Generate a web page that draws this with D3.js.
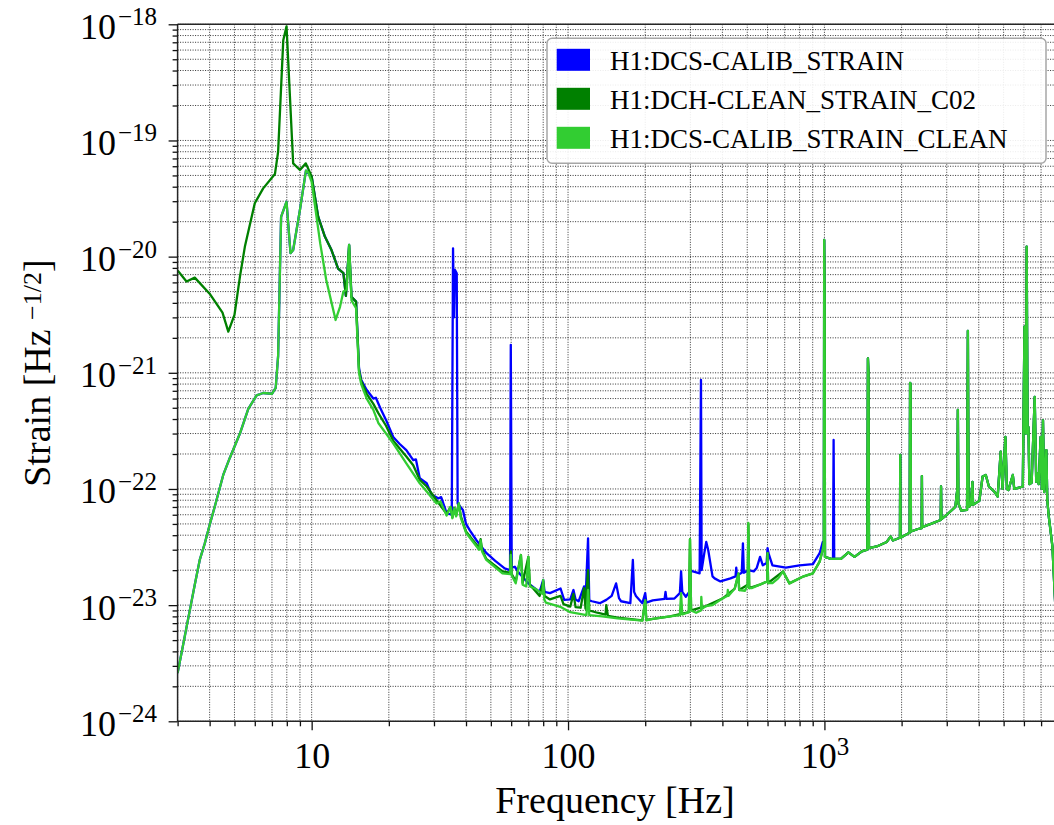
<!DOCTYPE html>
<html><head><meta charset="utf-8">
<script src="https://cdn.jsdelivr.net/npm/d3@7"></script>
<style>
html,body{margin:0;padding:0;background:#fff;}
svg{display:block;}
</style>
</head><body>
<svg id="chart" width="1054" height="825"></svg>
<script>
// ---------------- DATA (frequency [Hz], ASD [strain/rtHz]) ----------------
const seriesNames = ["H1:DCS-CALIB_STRAIN", "H1:DCH-CLEAN_STRAIN_C02", "H1:DCS-CALIB_STRAIN_CLEAN"];
const seriesColors = ["#0000ff", "#008000", "#32cd32"];

// low-frequency part (3 - 15 Hz)
const lowCalib = [[3.0,2.6e-24],[3.2,5.4e-24],[3.35,9.1e-24],[3.5,1.5e-23],[3.66,2.45e-23],[3.83,3.4e-23],[4.0,4.9e-23],[4.2,7.2e-23],[4.52,1.32e-22],[4.79,1.84e-22],[5.25,3.0e-22],[5.66,4.9e-22],[6.1,6.4e-22],[6.47,6.7e-22],[7.0,6.6e-22],[7.24,7.4e-22],[7.4,1.4e-21],[7.6,2.2e-20],[7.98,2.97e-20],[8.27,1.07e-20],[8.47,1.14e-20],[9.0,2.52e-20],[9.5,5.5e-20],[10.0,4.9e-20],[10.6,2.21e-20],[11.26,1.49e-20],[11.95,1.14e-20],[12.68,7.9e-21],[13.3,7.2e-21],[13.6,4.6e-21],[14.0,1.26e-20],[14.3,4.5e-21],[14.9,4.1e-21],[15.3,1.1e-21]];
const lowC02 = [[3.0,7.6e-21],[3.25,6.1e-21],[3.5,6.6e-21],[4.0,4.8e-21],[4.49,3.3e-21],[4.73,2.26e-21],[5.0,3.15e-21],[5.25,6.7e-21],[5.49,1.22e-20],[6.0,2.88e-20],[6.47,3.87e-20],[7.19,5.14e-20],[7.4,8.0e-20],[7.75,7.3e-19],[7.98,9.6e-19],[8.47,6.35e-20],[9.0,5.57e-20],[9.49,6.35e-20],[10.0,4.9e-20],[10.6,2.21e-20],[11.26,1.49e-20],[11.95,1.14e-20],[12.68,7.9e-21],[13.3,7.2e-21],[13.6,4.6e-21],[14.0,1.26e-20],[14.3,4.5e-21],[14.9,4.1e-21],[15.3,1.05e-21]];
const lowClean = [[3.0,2.6e-24],[3.2,5.4e-24],[3.35,9.1e-24],[3.5,1.5e-23],[3.66,2.45e-23],[3.83,3.4e-23],[4.0,4.9e-23],[4.2,7.2e-23],[4.52,1.32e-22],[4.79,1.84e-22],[5.25,3.0e-22],[5.66,4.9e-22],[6.1,6.4e-22],[6.47,6.7e-22],[7.0,6.6e-22],[7.24,7.4e-22],[7.4,1.4e-21],[7.6,2.2e-20],[7.98,2.97e-20],[8.27,1.07e-20],[8.47,1.14e-20],[9.0,2.52e-20],[9.5,5.5e-20],[9.7,5.3e-20],[10.0,4.4e-20],[10.8,1.3e-20],[11.4,6.3e-21],[12.4,2.85e-21],[12.9,3.7e-21],[13.3,5.0e-21],[13.7,5.2e-21],[14.0,1.26e-20],[14.3,4.2e-21],[14.9,3.6e-21],[15.3,1.0e-21]];

// mid-frequency part (15 - 1000 Hz)
const midCalib = [[15.6,8.7e-22],[16.4,7.1e-22],[17.4,6.0e-22],[17.8,6.1e-22],[18.5,5.0e-22],[19.5,3.93e-22],[20.8,2.8e-22],[22.0,2.45e-22],[23.4,2.16e-22],[24.9,1.77e-22],[25.5,1.8e-22],[26.4,1.24e-22],[28.1,1.12e-22],[29.4,8.9e-23],[31.2,8.3e-23],[32.0,8.5e-23],[33.6,6.2e-23],[35.2,6.0e-23],[35.6,1.18e-20],[35.9,3.0e-21],[36.2,7.7e-21],[36.8,7.2e-21],[37.1,7.5e-23],[38.9,6.6e-23],[40.0,5.0e-23],[41.4,4.4e-23],[44.0,3.6e-23],[48.1,2.8e-23],[52.0,2.4e-23],[56.6,2.07e-23],[59.4,2.0e-23],[59.8,1.74e-21],[60.3,2.1e-23],[62.0,2.14e-23],[64.5,1.88e-23],[70.0,1.54e-23],[77.5,1.3e-23],[80.0,1.65e-23],[81.0,1.3e-23],[85.0,1.27e-23],[93.5,1.39e-23],[96.6,1.11e-23],[102,1.12e-23],[105,1.35e-23],[107,1.12e-23],[110,1.08e-23],[115.5,1.45e-23],[117,1.1e-23],[119.7,3.76e-23],[121,1.1e-23],[124,1.08e-23],[133,1.04e-23],[141,1.11e-23],[148,1.2e-23],[154,1.54e-23],[158,1.15e-23],[161,1.08e-23],[175,1.04e-23],[179,2.45e-23],[181,1.3e-23],[184,1.2e-23],[195,1.04e-23],[200,1.27e-23],[202,1.05e-23],[214,1.1e-23],[238,1.13e-23],[240,1.3e-23],[242,1.13e-23],[260,1.14e-23],[273,1.27e-23],[276,1.95e-23],[279,1.3e-23],[288,1.18e-23],[297,1.3e-23],[300,2.0e-23],[307,1.95e-23],[326,1.88e-23],[330,8.7e-22],[332,2.0e-23],[340,2.8e-23],[346,3.5e-23],[352,3.0e-23],[366,1.77e-23],[373,1.7e-23],[393,1.6e-23],[430,1.7e-23],[450,1.77e-23],[453,2.1e-23],[456,1.8e-23],[476,1.9e-23],[481,3.4e-23],[485,1.9e-23],[505,2.0e-23],[530,1.95e-23],[545,2.1e-23],[561,2.6e-23],[575,2.2e-23],[595,2.3e-23],[600,3.1e-23],[605,2.8e-23],[627,2.2e-23],[707,2.1e-23],[800,2.2e-23],[902,2.25e-23],[958,2.8e-23],[985,3.5e-23]];
const midC02 = [[15.6,8.5e-22],[16.4,6.6e-22],[17.4,5.4e-22],[18.2,4.5e-22],[19.5,3.5e-22],[20.8,2.6e-22],[23.4,1.9e-22],[24.9,1.6e-22],[26.4,1.2e-22],[28.1,1.05e-22],[30.7,8.0e-23],[33.6,6.1e-23],[34.8,7.0e-23],[35.4,5.7e-23],[36.0,6.9e-23],[36.6,5.9e-23],[37.5,7.5e-23],[38.2,5.8e-23],[40,4.3e-23],[45,3.1e-23],[45.6,3.7e-23],[46.2,3.0e-23],[48,2.5e-23],[55.5,1.95e-23],[59.4,1.9e-23],[59.8,2.9e-23],[60.3,1.85e-23],[62.5,1.6e-23],[65.5,2.7e-23],[66.5,1.55e-23],[70,2.6e-23],[71,1.5e-23],[77.5,1.2e-23],[80,1.6e-23],[81,1.2e-23],[85,1.12e-23],[93.5,1.2e-23],[96,1.02e-23],[102,9.7e-24],[105,1.25e-23],[107,9.6e-24],[112,9.5e-24],[115.5,1.4e-23],[117,9.3e-24],[119.7,2.0e-23],[121,9.0e-24],[130,8.6e-24],[140,8.3e-24],[141,1.0e-23],[143,8.1e-24],[156,7.8e-24],[195,7.4e-24],[200,1.1e-23],[202,7.45e-24],[250,8.0e-24],[296,8.7e-24],[299,3.7e-23],[302,9.0e-24],[345,9.8e-24],[400,1.14e-23],[447,1.39e-23],[462,1.85e-23],[465,1.35e-23],[502,1.5e-23],[505,5.0e-23],[509,1.4e-23],[560,1.5e-23],[598,1.6e-23],[600,2.8e-23],[603,1.55e-23],[690,1.95e-23],[730,1.54e-23],[830,1.77e-23],[902,1.88e-23],[958,2.37e-23],[985,3.0e-23]];
const midClean = [[15.6,8.0e-22],[16.4,6.0e-22],[17.4,4.8e-22],[18.2,3.7e-22],[20.8,2.47e-22],[23.4,1.66e-22],[26.4,1.12e-22],[28.1,9.5e-23],[30.7,7.5e-23],[31.8,7.8e-23],[33.6,5.9e-23],[34.8,7.0e-23],[35.4,5.6e-23],[36.0,6.8e-23],[36.6,5.8e-23],[37.5,7.5e-23],[38.2,5.6e-23],[40,4.2e-23],[45,3.0e-23],[45.6,3.6e-23],[46.2,2.9e-23],[48,2.45e-23],[55.5,1.88e-23],[59.4,1.85e-23],[59.8,2.7e-23],[60.3,1.8e-23],[62.5,1.54e-23],[65.5,2.7e-23],[66.5,1.5e-23],[68.7,1.45e-23],[70,2.6e-23],[71,1.45e-23],[74.3,1.39e-23],[79.5,1.25e-23],[80,1.65e-23],[80.8,1.12e-23],[82,1.05e-23],[94,9.6e-24],[102,8.7e-24],[118,8.2e-24],[119.7,1.35e-23],[121,8.2e-24],[136,8.0e-24],[156,7.7e-24],[195,7.35e-24],[200,1.1e-23],[202,7.4e-24],[214,7.6e-24],[250,8.0e-24],[273,8.2e-24],[276,1.27e-23],[279,8.3e-24],[296,8.7e-24],[299,3.7e-23],[302,9.0e-24],[316,8.6e-24],[330,9.0e-24],[331,1.18e-23],[333,9.3e-24],[345,9.8e-24],[366,1.0e-23],[400,1.14e-23],[418,1.2e-23],[420,1.35e-23],[422,1.2e-23],[447,1.39e-23],[462,1.88e-23],[465,1.35e-23],[490,1.33e-23],[502,1.5e-23],[505,5.1e-23],[509,1.4e-23],[520,1.4e-23],[560,1.5e-23],[598,1.6e-23],[600,2.8e-23],[603,1.55e-23],[627,1.55e-23],[660,1.7e-23],[690,1.95e-23],[730,1.54e-23],[830,1.77e-23],[902,1.88e-23],[958,2.37e-23],[985,3.0e-23]];

// high-frequency part (1 kHz - 8 kHz), shared by all three channels
const highShared = [[995,3.5e-23],[998,1.39e-20],[1002,4.4e-21],[1005,2.6e-23],[1060,2.5e-23],[1160,2.5e-23],[1240,2.85e-23],[1310,2.6e-23],[1400,2.9e-23],[1470,3.0e-23],[1478,1.33e-21],[1486,1.0e-21],[1492,3.1e-23],[1600,3.2e-23],[1750,3.5e-23],[1813,3.9e-23],[1850,3.6e-23],[1970,3.8e-23],[1976,1.96e-22],[1982,3.8e-23],[2060,4.0e-23],[2150,4.2e-23],[2158,8.2e-22],[2168,8.0e-22],[2175,4.3e-23],[2300,4.5e-23],[2395,4.6e-23],[2400,1.29e-22],[2406,4.7e-23],[2600,5.0e-23],[2840,5.4e-23],[2850,1.05e-22],[2860,5.5e-23],[3000,6.0e-23],[3240,7.0e-23],[3300,1.0e-22],[3315,4.8e-22],[3330,7.5e-23],[3420,6.5e-23],[3600,6.6e-23],[3627,2.3e-21],[3650,7.0e-23],[3720,7.3e-23],[3780,1.15e-22],[3800,7.3e-23],[4020,7.9e-23],[4140,1.28e-22],[4260,1.32e-22],[4380,1.05e-22],[4600,9.5e-23],[4740,8.6e-23],[4870,2.1e-22],[4950,1.0e-22],[5080,2.8e-22],[5150,1.0e-22],[5220,9.8e-23],[5430,1.32e-22],[5500,1.0e-22],[5940,1.05e-22],[6030,2.5e-21],[6100,3.0e-22],[6150,1.22e-20],[6200,3.0e-22],[6250,3.4e-22],[6300,1.1e-22],[6430,1.13e-22],[6610,6.2e-22],[6700,1.15e-22],[6760,1.37e-22],[6850,1.1e-22],[6970,2.8e-22],[7050,1.0e-22],[7120,3.9e-22],[7200,9.4e-23],[7340,2.16e-22],[7400,8.0e-23],[7500,5.8e-23],[7750,3.2e-23],[7920,1.18e-23],[8192,3.0e-24]];
const highCalibOnly = [[1080,2.5e-23],[1086,2.64e-22],[1092,2.5e-23]];

// axis ticks / labels
const xTickLabels = [{v:10, base:"10", sup:""}, {v:100, base:"100", sup:""}, {v:1000, base:"10", sup:"3"}];
const yExponents = [-24,-23,-22,-21,-20,-19,-18];
const xAxisTitle = "Frequency [Hz]";
const yAxisTitle = {main:"Strain [Hz ", sup:"\u22121/2", tail:"]"};

// ---------------- BUILD ----------------
const FONT = '"Liberation Serif"';
const byF = (a,b)=>a[0]-b[0];
const seriesPts = [
  [...lowCalib, ...midCalib, ...[...highShared, ...highCalibOnly].sort(byF)],
  [...lowC02, ...midC02, ...highShared],
  [...lowClean, ...midClean, ...highShared]
];

const svg = d3.select("#chart");
const L=177.6, R=1058.6, T=24.3, B=721.3;
const x = d3.scaleLog().domain([3,8192]).range([L,R]);
const y = d3.scaleLog().domain([1e-24,1e-18]).range([B,T]);

svg.append("rect").attr("width",1054).attr("height",825).attr("fill","#fff");

// ticks positions
const xMajor = xTickLabels.map(d=>d.v);
const xMinor = [];
[1,10,100,1000].forEach(d=>{for(let k=2;k<=9;k++){const v=k*d; if(v>=3 && v<=8192) xMinor.push(v);}});
const yMajor = yExponents.map(e=>Math.pow(10,e));
const yMinor = [];
yExponents.slice(0,-1).forEach(e=>{for(let k=2;k<=9;k++) yMinor.push(k*Math.pow(10,e));});

// grid
const grid = svg.append("g").attr("stroke","#000").attr("stroke-width",0.9)
  .attr("stroke-dasharray","1,1.5").attr("stroke-opacity",0.9);
grid.selectAll("line.v").data(xMinor.concat(xMajor)).join("line").attr("class","v")
  .attr("x1",d=>x(d)).attr("x2",d=>x(d)).attr("y1",T).attr("y2",B);
grid.selectAll("line.h").data(yMinor.concat(yMajor)).join("line").attr("class","h")
  .attr("y1",d=>y(d)).attr("y2",d=>y(d)).attr("x1",L).attr("x2",R);

// lines
svg.append("clipPath").attr("id","clip").append("rect")
  .attr("x",L).attr("y",T).attr("width",R-L).attr("height",B-T);
const line = d3.line().x(d=>x(d[0])).y(d=>y(d[1]));
const gl = svg.append("g").attr("clip-path","url(#clip)");
seriesPts.forEach((pts,i)=>{
  gl.append("path").datum(pts).attr("d",line).attr("fill","none")
    .attr("stroke",seriesColors[i]).attr("stroke-width", 2.3)
    .attr("stroke-linejoin","round").attr("stroke-linecap","butt");
});

// spines
const sp = svg.append("g").attr("stroke","#262626").attr("stroke-width",1.5);
sp.append("line").attr("x1",L).attr("x2",L).attr("y1",T).attr("y2",B);
sp.append("line").attr("x1",L).attr("x2",R).attr("y1",B).attr("y2",B);
sp.append("line").attr("x1",L).attr("x2",R).attr("y1",T).attr("y2",T);
sp.append("line").attr("x1",R).attr("x2",R).attr("y1",T).attr("y2",B);

// axes
function styleAxis(g){ g.select(".domain").remove(); g.selectAll(".tick line").attr("stroke","#111").attr("stroke-width",1.3); }
const gxMin = svg.append("g").attr("transform",`translate(0,${B})`)
  .call(d3.axisBottom(x).tickValues(xMinor).tickSize(5).tickFormat(""));
styleAxis(gxMin);
const gx = svg.append("g").attr("transform",`translate(0,${B})`)
  .call(d3.axisBottom(x).tickValues(xMajor).tickSize(9).tickFormat(""));
styleAxis(gx);
gx.selectAll(".tick text").remove();
gx.selectAll(".tick").each(function(d){
  const info = xTickLabels.find(t=>t.v===d);
  const t = d3.select(this).append("text").attr("text-anchor","middle").attr("y",47)
    .style("font-family",FONT).style("font-size","36px").attr("fill","#000");
  t.append("tspan").text(info.base);
  if(info.sup) t.append("tspan").style("font-size","25px").attr("dy",-13).text(info.sup);
});

const gyMin = svg.append("g").attr("transform",`translate(${L},0)`)
  .call(d3.axisLeft(y).tickValues(yMinor).tickSize(5).tickFormat(""));
styleAxis(gyMin);
const gy = svg.append("g").attr("transform",`translate(${L},0)`)
  .call(d3.axisLeft(y).tickValues(yMajor).tickSize(9).tickFormat(""));
styleAxis(gy);
gy.selectAll(".tick text").remove();
gy.selectAll(".tick").each(function(d,i){
  const t = d3.select(this).append("text").attr("text-anchor","end").attr("x",-20.5).attr("y",14)
    .style("font-family",FONT).style("font-size","36px").attr("fill","#000");
  t.append("tspan").text("10");
  t.append("tspan").style("font-size","25px").attr("dy",-13.5).attr("dx",2).text("\u2212"+Math.abs(yExponents[i]));
});

// axis titles
svg.append("text").attr("x",615).attr("y",813).attr("text-anchor","middle")
  .style("font-family",FONT).style("font-size","38px").text(xAxisTitle);
const yt = svg.append("text").attr("transform","translate(50,373) rotate(-90)").attr("text-anchor","middle")
  .style("font-family",FONT).style("font-size","38px");
yt.append("tspan").text(yAxisTitle.main);
yt.append("tspan").style("font-size","26px").attr("dy",-9).text(yAxisTitle.sup);
yt.append("tspan").attr("dy",9).text(yAxisTitle.tail);

// legend
const lg = svg.append("g");
lg.append("rect").attr("x",547).attr("y",38.3).attr("width",499).attr("height",125)
  .attr("rx",5).attr("fill","#fff").attr("fill-opacity",0.9).attr("stroke","#a6a6a6").attr("stroke-width",1.5);
seriesNames.forEach((n,i)=>{
  const cy = 59.8 + i*39;
  lg.append("rect").attr("x",556.7).attr("y",cy-11).attr("width",33.3).attr("height",22).attr("fill",seriesColors[i]);
  lg.append("text").attr("x",610).attr("y",cy+10).style("font-family",FONT).style("font-size","27px").text(n);
});
</script>
</body></html>
